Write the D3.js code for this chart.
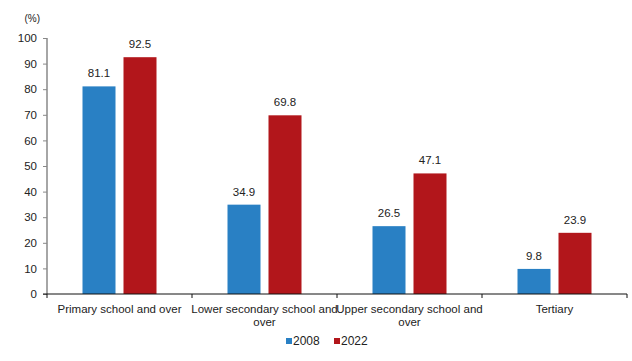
<!DOCTYPE html>
<html>
<head>
<meta charset="utf-8">
<script src="https://cdn.jsdelivr.net/npm/d3@7"></script>
<style>
    body { margin: 0; background: #fff; }
    svg { display: block; font-family: "Liberation Sans", Arial, sans-serif; }
</style>
</head>
<body>
<svg id="chart" width="632" height="361"></svg>
<script>
/**
 * Data.
 */
const categories = ['Primary school and over', 'Lower secondary school and over', 'Upper secondary school and over', 'Tertiary'];
const seriesNames = ['2008', '2022'];
const values2008 = [81.1, 34.9, 26.5, 9.8];
const values2022 = [92.5, 69.8, 47.1, 23.9];
const yTicks = [0, 10, 20, 30, 40, 50, 60, 70, 80, 90, 100];

/**
 * Visual configs.
 */
const colors = ['#2980c4', '#b2161b'],
    margin = { top: 38, right: 5, bottom: 67, left: 47 },
    width = 632, height = 361,
    barWidth = 33, barGap = 8;

const svg = d3.select('#chart');

const xScale = d3.scaleBand().domain(categories).range([margin.left, 627]);
const yScale = d3.scaleLinear().domain([0, 100]).range([height - margin.bottom, margin.top]);

// Y axis
const yAxis = svg.append('g')
    .attr('transform', 'translate(' + margin.left + ',0)')
    .call(d3.axisLeft(yScale).tickValues(yTicks).tickSize(4).tickPadding(6));
yAxis.selectAll('path, line').attr('stroke', '#888');
yAxis.select('.domain').attr('d', 'M0,' + yScale(100) + 'V' + yScale(0)).attr('stroke-width', 1.5);
yAxis.selectAll('text').attr('font-size', 11.5).attr('fill', '#222').attr('font-family', null);

svg.append('text')
    .attr('x', 40).attr('y', 22)
    .attr('text-anchor', 'end')
    .attr('font-size', 10)
    .attr('fill', '#222')
    .text('(%)');

// Bars
const series = [values2008, values2022];
series.forEach((vals, si) => {
    const g = svg.append('g').attr('class', 'series-' + si);
    const xOf = (d, i) => xScale(categories[i]) + xScale.bandwidth() / 2 - barWidth - barGap / 2 + si * (barWidth + barGap);

    g.selectAll('rect').data(vals).join('rect')
        .attr('x', xOf)
        .attr('y', d => yScale(d))
        .attr('width', barWidth)
        .attr('height', d => yScale(0) - yScale(d))
        .attr('fill', colors[si]);

    g.selectAll('text').data(vals).join('text')
        .attr('x', (d, i) => xOf(d, i) + barWidth / 2)
        .attr('y', d => yScale(d) - 9)
        .attr('text-anchor', 'middle')
        .attr('font-size', 11.5)
        .attr('fill', '#222')
        .text(d => d.toFixed(1));
});

// X axis (category boundaries as ticks)
const xAxis = svg.append('g');
xAxis.append('line')
    .attr('x1', margin.left - 4).attr('x2', 627)
    .attr('y1', yScale(0)).attr('y2', yScale(0))
    .attr('stroke', '#111');
categories.concat([null]).forEach((c, i) => {
    const x = i < categories.length ? xScale(c) : 627;
    xAxis.append('line')
        .attr('x1', x).attr('x2', x)
        .attr('y1', yScale(0)).attr('y2', yScale(0) + 4)
        .attr('stroke', '#111');
});

// Category labels, wrapped to the band width
categories.forEach(c => {
    const t = svg.append('text')
        .attr('text-anchor', 'middle')
        .attr('font-size', 11.5)
        .attr('fill', '#222');
    const words = c.split(' ');
    let lines = [], line = [];
    const measure = svg.append('text').attr('font-size', 11.5);
    words.forEach(w => {
        const test = line.concat([w]).join(' ');
        measure.text(test);
        if (measure.node().getComputedTextLength() > xScale.bandwidth() + 6 && line.length) {
            lines.push(line.join(' '));
            line = [w];
        } else {
            line.push(w);
        }
    });
    lines.push(line.join(' '));
    measure.remove();
    lines.forEach((l, li) => {
        t.append('tspan')
            .attr('x', xScale(c) + xScale.bandwidth() / 2)
            .attr('y', 313 + li * 13)
            .text(l);
    });
});

// Legend
const legend = svg.append('g');
const legendX = [286, 334];
seriesNames.forEach((s, i) => {
    legend.append('rect')
        .attr('x', legendX[i]).attr('y', 338)
        .attr('width', 6).attr('height', 6)
        .attr('fill', colors[i]);
    legend.append('text')
        .attr('x', legendX[i] + 7).attr('y', 345)
        .attr('font-size', 12)
        .attr('fill', '#222')
        .text(s);
});
</script>
</body>
</html>
